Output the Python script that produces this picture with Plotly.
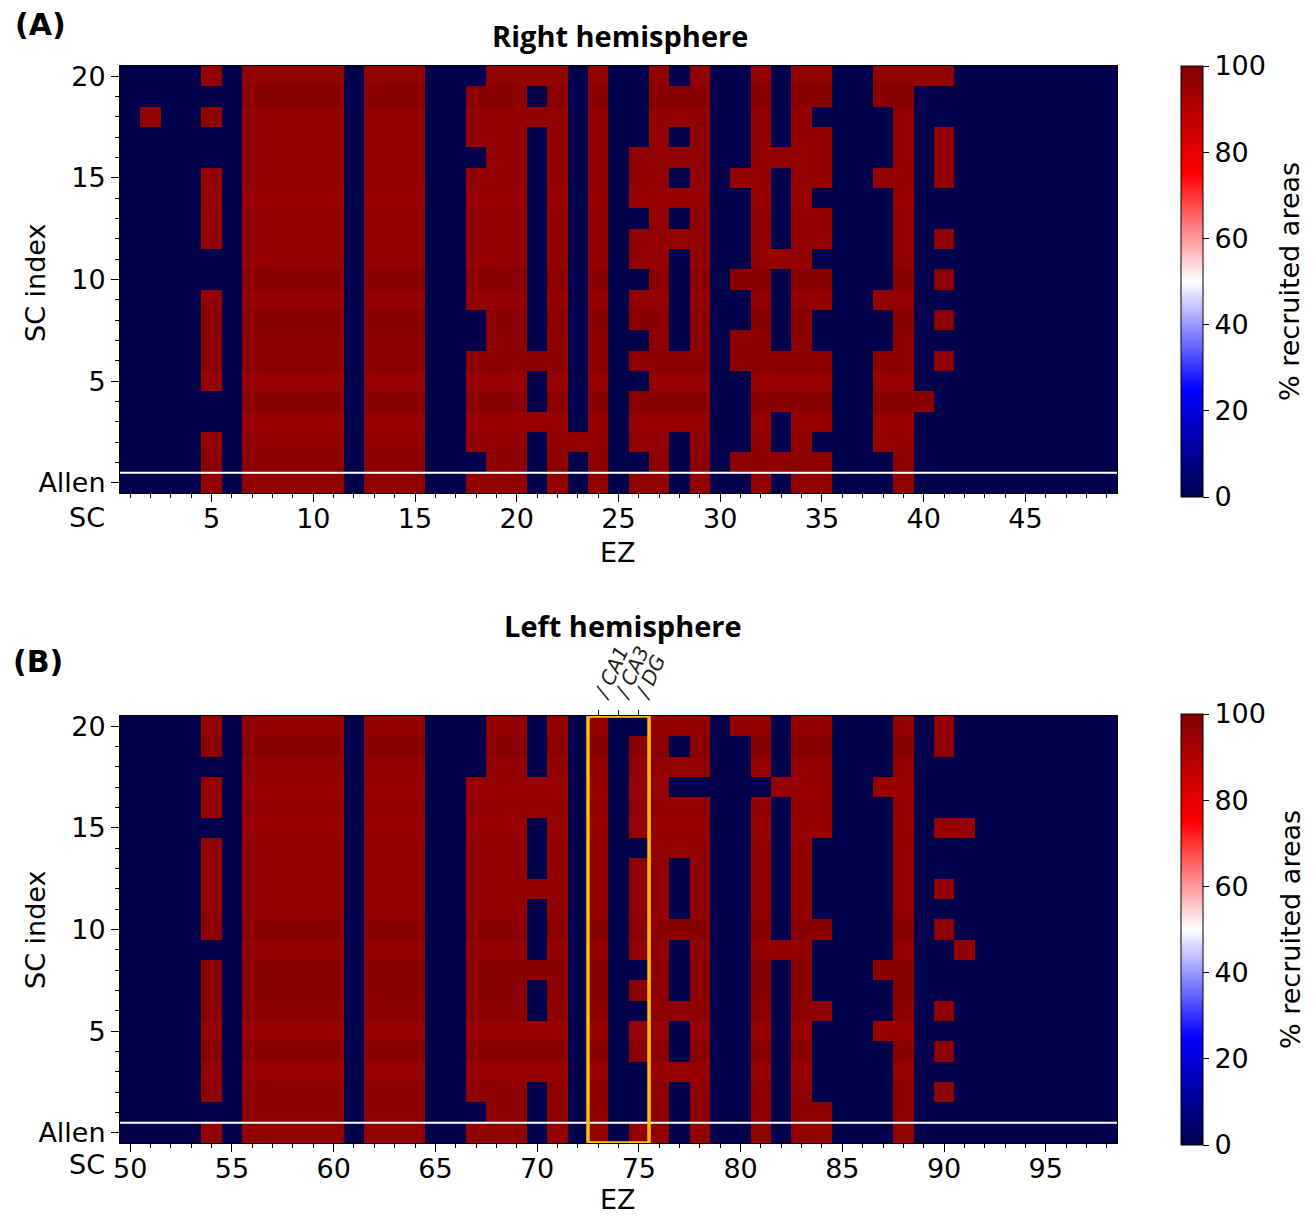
import numpy as np
import plotly.graph_objects as go

W, H = 1316, 1216

# ---------------- data ----------------
ROWS = list(range(21))            # 0 = Allen, 1..20 = SC index
EZ_A = list(range(1, 50))         # right hemisphere EZ indices
EZ_B = list(range(50, 99))        # left hemisphere EZ indices
ALL = list(range(21))


def all_but(*rows):
    return [r for r in ALL if r not in rows]


# rows (SC index) in which each EZ column is recruited (red); missing = 0 %
RED_A = {
    2: [18],
    5: [0, 1, 2, 5, 6, 7, 8, 9, 12, 13, 14, 15, 18, 20],
    7: ALL, 8: ALL, 9: ALL, 10: ALL, 11: ALL,
    13: ALL, 14: ALL, 15: ALL,
    18: all_but(1, 7, 8, 16, 20),
    19: ALL, 20: ALL,
    21: [3, 6, 18, 20],
    22: ALL,
    23: [2],
    24: ALL,
    26: [0, 2, 3, 4, 6, 8, 9, 11, 12, 14, 15, 16],
    27: ALL,
    28: [3, 4, 5, 6, 12, 14, 16, 18, 19],
    29: ALL,
    31: [1, 6, 7, 10, 15],
    32: ALL,
    33: [1, 4, 5, 6, 11, 16],
    34: ALL,
    35: all_but(2, 7, 8, 11, 14, 18),
    38: [2, 3, 4, 5, 6, 9, 15, 19, 20],
    39: ALL,
    40: [4, 20],
    41: [6, 8, 10, 12, 15, 16, 17, 20],
}

RED_B = {
    54: all_but(1, 9, 15, 18),
    56: ALL, 57: ALL, 58: ALL, 59: ALL, 60: ALL,
    62: ALL, 63: ALL, 64: ALL,
    67: all_but(1, 18, 19, 20),
    68: ALL, 69: ALL,
    70: [3, 4, 5, 8, 12, 16, 17],
    71: ALL,
    73: ALL,
    75: all_but(1, 2, 3, 6, 8, 14, 20),
    76: ALL,
    77: [3, 6, 10, 14, 15, 16, 18, 20],
    78: all_but(17),
    80: [20],
    81: all_but(17),
    82: [9, 17],
    83: ALL,
    84: [0, 1, 6, 10, 15, 16, 17, 18, 19, 20],
    87: [5, 8, 17],
    88: ALL,
    90: [2, 4, 6, 10, 12, 15, 19, 20],
    91: [9, 15],
}

# % recruited value of the red cells, per row (0..20), read from shading
SHADE_A = [96.5, 97.5, 96.5, 95.5, 98, 95.5, 97.5, 97.5, 98, 96, 98,
           96.5, 96.5, 96.5, 95.5, 96.5, 96.5, 96.5, 96.5, 98, 96.5]
SHADE_B = [96.5, 97.5, 97, 95.5, 98, 95.5, 97.5, 98, 98, 96.5, 98,
           96.5, 96.5, 96.5, 96.5, 95.5, 96.5, 95.5, 96.5, 98, 96.5]

CBAR_TICKS = [0, 20, 40, 60, 80, 100]
HIPPO_EZ = [73, 74, 75]
HIPPO_LABELS = ["/ CA1", "/ CA3", "/ DG"]

SEISMIC = [[0.0, "rgb(0,0,77)"], [0.25, "rgb(0,0,255)"], [0.5, "rgb(255,255,255)"],
           [0.75, "rgb(255,0,0)"], [1.0, "rgb(128,0,0)"]]


def build(ez, red, shade):
    z = np.zeros((len(ROWS), len(ez)))
    for j, e in enumerate(ez):
        for r in red.get(e, []):
            z[r, j] = shade[r]
    return z


zA = build(EZ_A, RED_A, SHADE_A)
zB = build(EZ_B, RED_B, SHADE_B)

FONT = "DejaVu Sans"
TF = dict(family=FONT, size=27, color="black")

# screen-pixel -> paper fraction (the page places the figure 8 px in from the corner)
OX, OY = 8.0, 8.0


def px_x(p):
    return (p - OX) / W


def px_y(p):
    return 1 - (p - OY) / H


def cbar(top, bottom):
    return dict(
        x=px_x(1181), xanchor="left", y=px_y((top + bottom) / 2), yanchor="middle",
        len=(bottom - top) / H, lenmode="fraction", thickness=22, thicknessmode="pixels",
        xpad=0, ypad=0, outlinecolor="black", outlinewidth=1,
        tickmode="array", tickvals=CBAR_TICKS, ticks="outside", ticklen=6,
        tickcolor="black", tickfont=TF,
    )


fig = go.Figure()
fig.add_trace(go.Heatmap(x=EZ_A, y=ROWS, z=zA, colorscale=SEISMIC, zmin=0, zmax=100,
                         xaxis="x", yaxis="y", colorbar=cbar(66, 497)))
fig.add_trace(go.Heatmap(x=EZ_B, y=ROWS, z=zB, colorscale=SEISMIC, zmin=0, zmax=100,
                         xaxis="x2", yaxis="y2", colorbar=cbar(714, 1145)))
# invisible trace to hold the top (hippocampus) axis
fig.add_trace(go.Scatter(x=HIPPO_EZ, y=[10, 10, 10], xaxis="x3", yaxis="y2", mode="markers",
                         marker=dict(opacity=0), hoverinfo="skip", showlegend=False))

dom_x = [px_x(120), px_x(1117)]
minor = dict(ticks="outside", ticklen=4, tickcolor="black", dtick=1, tick0=0, showgrid=False)
common = dict(showline=True, linecolor="black", linewidth=1, mirror=True, ticks="outside",
              ticklen=8, tickcolor="black", tickfont=TF, showgrid=False, zeroline=False,
              minor=minor)

fig.update_layout(
    width=W, height=H, margin=dict(l=0, r=0, t=0, b=0, autoexpand=False),
    paper_bgcolor="white", plot_bgcolor="white", font=dict(family=FONT, color="black"),
    showlegend=False,
    xaxis=dict(domain=dom_x, anchor="y", range=[0.5, 49.5], tickmode="linear", tick0=0, dtick=5,
               ticklabelstandoff=-6, **common),
    yaxis=dict(domain=[px_y(493), px_y(66)], anchor="x", range=[-0.5, 20.5], tickmode="linear",
               tick0=0, dtick=5, labelalias={"0": "Allen"}, **common),
    xaxis2=dict(domain=dom_x, anchor="y2", range=[49.5, 98.5], tickmode="linear", tick0=0, dtick=5,
                ticklabelstandoff=-6, **common),
    yaxis2=dict(domain=[px_y(1143), px_y(716)], anchor="x2", range=[-0.5, 20.5], tickmode="linear",
                tick0=0, dtick=5, labelalias={"0": "Allen"}, **common),
    xaxis3=dict(overlaying="x2", side="top", anchor="y2", range=[49.5, 98.5], tickmode="array",
                tickvals=HIPPO_EZ, ticktext=["<i>%s</i>" % t for t in HIPPO_LABELS], tickangle=-66,
                ticks="outside", ticklen=5, tickcolor="black", showgrid=False, zeroline=False,
                showline=False, ticklabelstandoff=-3,
                tickfont=dict(family=FONT, size=20, color="#222")),
)

# white separator between Allen and SC rows, orange hippocampus box
fig.add_shape(type="line", xref="x", yref="y", x0=0.5, x1=49.5, y0=0.5, y1=0.5,
              line=dict(color="white", width=2))
fig.add_shape(type="line", xref="x2", yref="y2", x0=49.5, x1=98.5, y0=0.5, y1=0.5,
              line=dict(color="white", width=2))
fig.add_shape(type="rect", xref="x2", yref="y2", x0=72.5, x1=75.5, y0=-0.5, y1=20.5,
              line=dict(color="rgb(255,190,0)", width=3.5))

ann = [
    dict(text="<b>(A)</b>", x=px_x(40), y=px_y(24), font=dict(family=FONT, size=30)),
    dict(text="<b>(B)</b>", x=px_x(38), y=px_y(661), font=dict(family=FONT, size=30)),
    dict(text="<b>Right hemisphere</b>", x=px_x(620), y=px_y(36), font=dict(family="Open Sans", size=29)),
    dict(text="<b>Left hemisphere</b>", x=px_x(623), y=px_y(625), font=dict(family="Open Sans", size=29)),
    dict(text="EZ", x=px_x(618), y=px_y(552), font=TF),
    dict(text="EZ", x=px_x(618), y=px_y(1199), font=TF),
    dict(text="SC index", x=px_x(35), y=px_y(283), textangle=-90, font=TF),
    dict(text="SC index", x=px_x(35), y=px_y(930), textangle=-90, font=TF),
    dict(text="SC", x=px_x(87), y=px_y(517), font=TF),
    dict(text="SC", x=px_x(87), y=px_y(1164), font=TF),
    dict(text="% recruited areas", x=px_x(1290), y=px_y(282), textangle=-90, font=TF),
    dict(text="% recruited areas", x=px_x(1290), y=px_y(930), textangle=-90, font=TF),
]
for a in ann:
    fig.add_annotation(xref="paper", yref="paper", xanchor="center", yanchor="middle",
                       showarrow=False, **a)

fig.write_html("out.html")
